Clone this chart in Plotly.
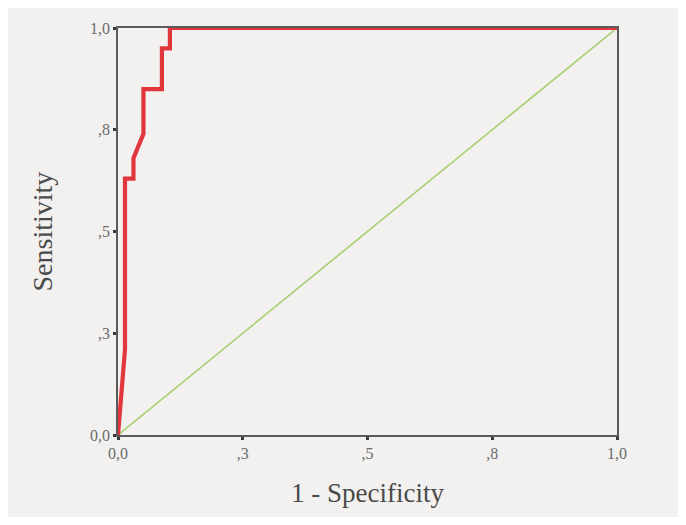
import plotly.graph_objects as go

# ROC curve values
fpr = [0.0, 0.014, 0.014, 0.031, 0.031, 0.051, 0.051, 0.088, 0.088, 0.104, 0.104, 1.0]
tpr = [0.0, 0.21, 0.63, 0.63, 0.68, 0.74, 0.85, 0.85, 0.95, 0.95, 1.0, 1.0]

# Reference (chance) line
ref_x = [0.0, 1.0]
ref_y = [0.0, 1.0]

tick_vals = [0.0, 0.25, 0.5, 0.75, 1.0]
tick_text = ["0,0", ",3", ",5", ",8", "1,0"]

BG = "#f2f1f0"
FONT = "Liberation Serif"

fig = go.Figure()
fig.add_trace(go.Scatter(x=ref_x, y=ref_y, mode="lines",
                         line=dict(color="#a9cf72", width=1.6), showlegend=False))
fig.add_trace(go.Scatter(x=fpr, y=tpr, mode="lines",
                         line=dict(color="#e0363c", width=4.2), showlegend=False))

axis_common = dict(
    range=[0, 1], tickvals=tick_vals, ticktext=tick_text,
    showgrid=False, zeroline=False, showline=True, linecolor="#5a5a5a", linewidth=1.6,
    mirror=True, ticks="outside", ticklen=3, tickwidth=3, tickcolor="#3a3a3a",
    tickfont=dict(family=FONT, size=16, color="#6a6a6a"),
)

fig.update_xaxes(**axis_common)
fig.update_yaxes(**axis_common)

fig.update_layout(
    width=670, height=509,
    margin=dict(l=110, r=61, t=17, b=82),
    paper_bgcolor=BG, plot_bgcolor=BG,
    annotations=[
        dict(text="1 - Specificity", xref="paper", yref="paper", x=0.5, y=0,
             yshift=-58, yanchor="middle", xanchor="center", showarrow=False,
             font=dict(family=FONT, size=27, color="#4a4a4a")),
        dict(text="Sensitivity", xref="paper", yref="paper", x=0, y=0.5,
             xshift=-76, xanchor="center", yanchor="middle", textangle=-90, showarrow=False,
             font=dict(family=FONT, size=28, color="#4a4a4a")),
    ],
)

fig.write_html("out.html")
